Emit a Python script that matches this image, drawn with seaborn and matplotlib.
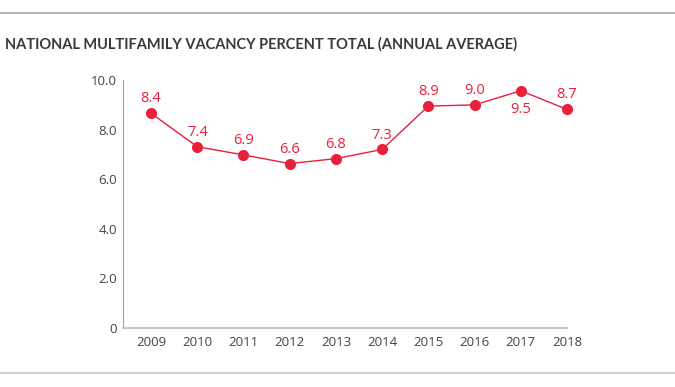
import pandas as pd
import matplotlib.pyplot as plt
import seaborn as sns

years = [2009, 2010, 2011, 2012, 2013, 2014, 2015, 2016, 2017, 2018]
vacancy = [8.66, 7.31, 6.98, 6.63, 6.83, 7.20, 8.95, 9.00, 9.57, 8.82]
labels = ['8.4', '7.4', '6.9', '6.6', '6.8', '7.3', '8.9', '9.0', '9.5', '8.7']
yticks = [0, 2, 4, 6, 8, 10]
ytick_labels = ['0', '2.0', '4.0', '6.0', '8.0', '10.0']

red = '#e8203a'
df = pd.DataFrame({'year': years, 'vacancy': vacancy})

sns.set_style('white')
plt.rcParams['font.family'] = ['Open Sans', 'DejaVu Sans']

fig = plt.figure(figsize=(6.75, 3.87), dpi=100)
ax = fig.add_axes([0.182, 0.153, 0.658, 0.640])
sns.lineplot(x='year', y='vacancy', data=df, color=red, linewidth=1,
             marker='o', markersize=8, markeredgewidth=0, ax=ax, clip_on=False)

for x, y, t in zip(years, vacancy, labels):
    if x == 2017:
        ax.annotate(t, (x, y), xytext=(0, -8), textcoords='offset points',
                    ha='center', va='top', color=red, fontsize=10.5)
    else:
        ax.annotate(t, (x, y), xytext=(0, 5), textcoords='offset points',
                    ha='center', va='bottom', color=red, fontsize=10.5)

ax.set_xlim(2008.39, 2018)
ax.set_ylim(0, 10)
ax.set_xticks(years)
ax.set_xticklabels([str(y) for y in years])
ax.set_yticks(yticks)
ax.set_yticklabels(ytick_labels)
ax.set_xlabel('')
ax.set_ylabel('')
ax.tick_params(axis='both', direction='in', length=7, width=1, colors='#b5b5b5',
               labelcolor='#444444', labelsize=9.5)
ax.tick_params(axis='x', pad=6)
ax.tick_params(axis='y', pad=4)
for s in ['top', 'right']:
    ax.spines[s].set_visible(False)
ax.spines['left'].set_color('#a0a0a0')
ax.spines['bottom'].set_color('#c8c8c8')
ax.spines['bottom'].set_linewidth(1.5)

fig.text(0.008, 0.885, 'NATIONAL MULTIFAMILY VACANCY PERCENT TOTAL (ANNUAL AVERAGE)',
         fontsize=10.5, fontweight='bold', color='#3a3a3a', family=['Lato', 'DejaVu Sans'],
         va='center')
fig.add_artist(plt.Line2D([0, 1], [1 - 13 / 387, 1 - 13 / 387], color='#a8a8a8', linewidth=1.2))
fig.add_artist(plt.Line2D([0, 1], [1 - 373 / 387, 1 - 373 / 387], color='#d0d0d0', linewidth=1.5))

plt.savefig('out.png', dpi=100)
